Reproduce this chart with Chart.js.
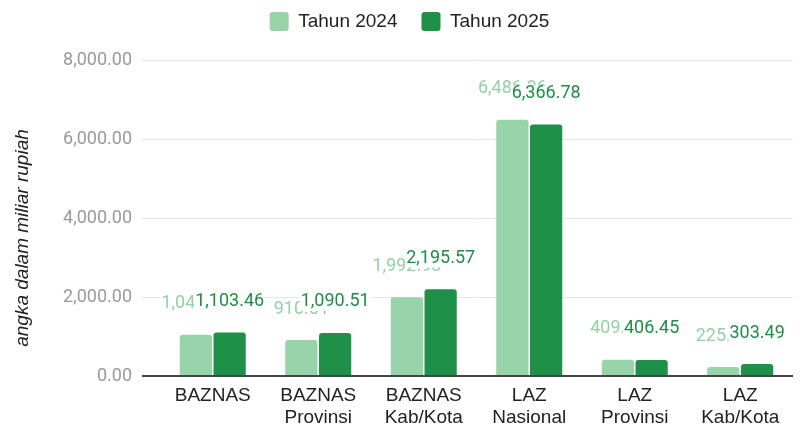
<!DOCTYPE html>
<html>
<head>
<meta charset="utf-8">
<script src="https://cdn.jsdelivr.net/npm/chart.js@4.4.1/dist/chart.umd.min.js"></script>
<style>
  html, body { margin: 0; padding: 0; background: #fff; }
  #wrap { width: 800px; height: 429px; }
</style>
</head>
<body>
<div id="wrap"><canvas id="zakatChart"></canvas></div>
<script>
// data
const categories = [
    ['BAZNAS'], ['BAZNAS', 'Provinsi'], ['BAZNAS', 'Kab/Kota'],
    ['LAZ', 'Nasional'], ['LAZ', 'Provinsi'], ['LAZ', 'Kab/Kota']
];
const tahun2024 = [1041.52, 910.51, 1992.93, 6486.36, 409.12, 225.36];
const tahun2025 = [1103.46, 1090.51, 2195.57, 6366.78, 406.45, 303.49];
const yTicks = [0, 2000, 4000, 6000, 8000];
const judulY = 'angka dalam miliar rupiah';

const warna2024 = '#98d4aa';
const warna2025 = '#1f9047';
const teks2024 = '#93d1a6';
const teks2025 = '#1e8e45';

const fmt = v => v.toLocaleString('en-US', { minimumFractionDigits: 2, maximumFractionDigits: 2 });

// tinggi legenda dibuat tetap supaya area grafik mulai di y=60
const legendHeight = {
    id: 'legendHeight',
    beforeInit(chart) {
        const fitAsli = chart.legend.fit;
        chart.legend.fit = function () {
            fitAsli.bind(chart.legend)();
            this.height = 72;
        };
    }
};

// label angka di atas batang + judul sumbu Y
const labelPlugin = {
    id: 'labelAngka',
    afterDatasetsDraw(chart) {
        const ctx = chart.ctx;
        ctx.save();
        ctx.font = '18px Roboto';
        ctx.textAlign = 'center';
        ctx.textBaseline = 'middle';
        chart.data.datasets.forEach((ds, i) => {
            const meta = chart.getDatasetMeta(i);
            meta.data.forEach((bar, j) => {
                const txt = fmt(ds.data[j]);
                const w = ctx.measureText(txt).width;
                const y = bar.y - 31;
                ctx.fillStyle = '#fff';
                ctx.fillRect(bar.x - w / 2 - 1, y - 8, w + 2, 17);
                ctx.fillStyle = i === 0 ? teks2024 : teks2025;
                ctx.fillText(txt, bar.x, y);
            });
        });
        ctx.restore();
    },
    afterDraw(chart) {
        const ctx = chart.ctx;
        ctx.save();
        ctx.translate(23, 238);
        ctx.rotate(-Math.PI / 2);
        ctx.font = 'italic 19px "Liberation Sans"';
        ctx.fillStyle = '#222';
        ctx.textAlign = 'center';
        ctx.textBaseline = 'middle';
        ctx.fillText(judulY, 0, 0);
        ctx.restore();
    }
};

new Chart(document.getElementById('zakatChart'), {
    type: 'bar',
    data: {
        labels: categories,
        datasets: [
            { label: 'Tahun 2024', data: tahun2024, backgroundColor: warna2024 },
            { label: 'Tahun 2025', data: tahun2025, backgroundColor: warna2025 }
        ]
    },
    options: {
        responsive: true,
        maintainAspectRatio: false,
        animation: false,
        layout: { padding: { top: -12, right: 7, bottom: 0, left: 26 } },
        datasets: {
            bar: {
                categoryPercentage: 0.64,
                barPercentage: 0.955,
                borderRadius: { topLeft: 3, topRight: 3 },
                borderSkipped: 'bottom'
            }
        },
        plugins: {
            legend: {
                position: 'top',
                labels: {
                    font: { family: 'Liberation Sans', size: 19 },
                    color: '#222',
                    boxWidth: 19,
                    boxHeight: 19,
                    useBorderRadius: true,
                    borderRadius: 3,
                    padding: 24
                }
            },
            tooltip: { enabled: false }
        },
        scales: {
            x: {
                grid: { display: false },
                border: { display: false },
                afterFit: scale => { scale.height = 53; },
                ticks: {
                    font: { family: 'Liberation Sans', size: 19 },
                    color: '#222',
                    padding: 0,
                    maxRotation: 0
                }
            },
            y: {
                min: 0,
                max: 8000,
                afterBuildTicks: scale => { scale.ticks = yTicks.map(v => ({ value: v })); },
                afterFit: scale => { scale.width = 134; },
                border: { display: false },
                grid: {
                    color: c => c.tick && c.tick.value === 0 ? '#444' : '#e4e4e4',
                    tickColor: c => c.tick && c.tick.value === 0 ? '#444' : '#e4e4e4',
                    lineWidth: c => c.tick && c.tick.value === 0 ? 2 : 1,
                    tickLength: 18
                },
                ticks: {
                    font: { family: 'Roboto', size: 18 },
                    color: '#999',
                    padding: 10,
                    callback: v => fmt(v)
                }
            }
        }
    },
    plugins: [legendHeight, labelPlugin]
});
</script>
</body>
</html>
